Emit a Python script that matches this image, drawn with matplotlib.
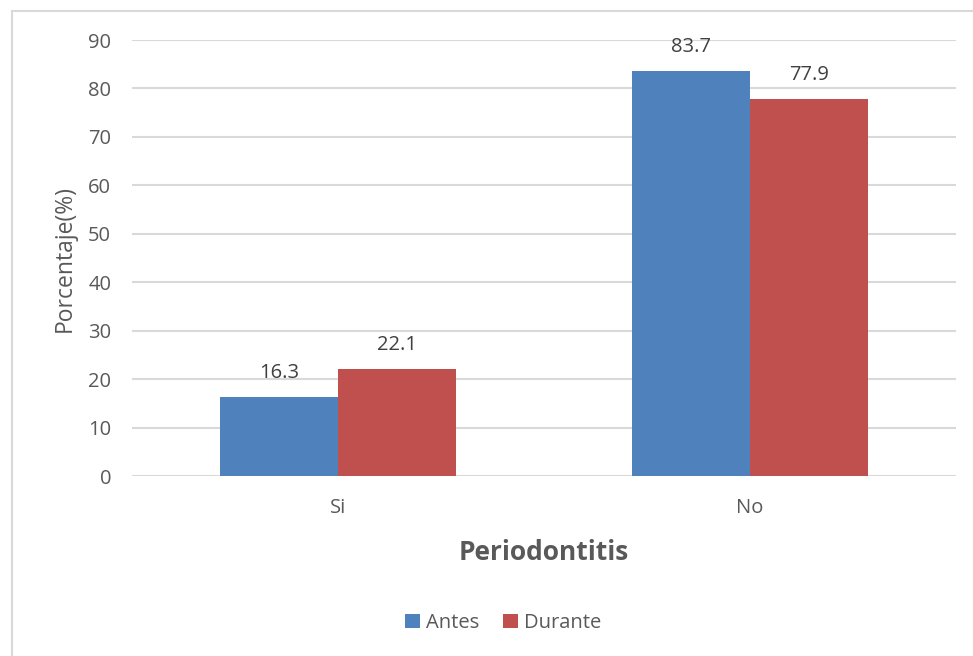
import numpy as np
import matplotlib.pyplot as plt
from matplotlib.patches import Rectangle

categorias = ["Si", "No"]
antes = [16.3, 83.7]
durante = [22.1, 77.9]

plt.rcParams['font.family'] = ['Open Sans', 'DejaVu Sans']
gris = "#595959"

fig = plt.figure(figsize=(9.73, 6.56), dpi=100)
ax = fig.add_axes([132/973, 1-476/656, 824/973, 436/656])

# marco del grafico
fig.patches.append(Rectangle((12/973, -0.1), 1.2, 1-11/656+0.1, transform=fig.transFigure,
                             fill=False, edgecolor="#d9d9d9", linewidth=1.5))

x = np.arange(len(categorias))
w = 0.2856
b1 = ax.bar(x - w/2, antes, w, color="#4F81BD", label="Antes", zorder=3)
b2 = ax.bar(x + w/2, durante, w, color="#C0504D", label="Durante", zorder=3)

for bars, vals in ((b1, antes), (b2, durante)):
    for r, v in zip(bars, vals):
        ax.text(r.get_x() + r.get_width()/2, v + 2.8, f"{v:.1f}", ha="center", va="bottom",
                fontsize=14.5, color="#404040")

ax.set_xlim(-0.5, 1.5)
ax.set_ylim(0, 90)
ax.set_yticks(np.arange(0, 91, 10))
ax.set_xticks(x)
ax.set_xticklabels(categorias)
ax.grid(axis="y", color="#d9d9d9", linewidth=1.5, zorder=0)
for s in ax.spines.values():
    s.set_visible(False)
ax.tick_params(length=0, labelsize=14.5, colors=gris, pad=15)
ax.tick_params(axis="x", pad=16)
ax.set_ylabel("Porcentaje(%)", fontsize=16.5, color=gris, labelpad=8)
ax.set_xlabel("Periodontitis", fontsize=19, fontweight="bold", color=gris, labelpad=15)

fig.legend(handles=[b1, b2], loc="center", bbox_to_anchor=(503/973, 1-623/656), ncol=2,
           frameon=False, fontsize=14.5, labelcolor=gris, handlelength=0.75, handleheight=0.75,
           handletextpad=0.3, columnspacing=1.2)

fig.savefig("out.png", dpi=100)
